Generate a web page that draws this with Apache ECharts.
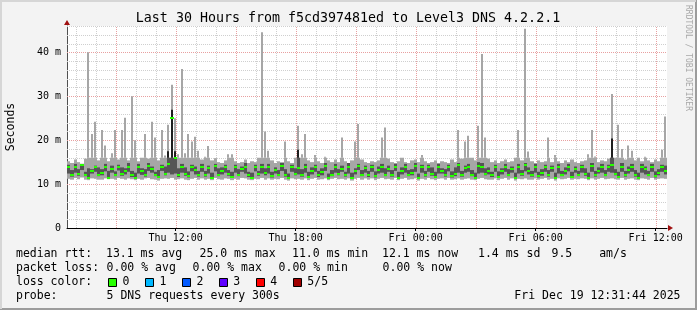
<!DOCTYPE html>
<html><head><meta charset="utf-8">
<script src="https://cdn.jsdelivr.net/npm/echarts@6/dist/echarts.min.js"></script>
<style>html,body{margin:0;padding:0;background:#f3f3f3;}#c{width:697px;height:310px;}</style>
</head><body><div id="c"></div>
<script>
// ---- data (ms), one entry per 10-minute step starting Thu 06:34 ----
const hi = [15.2,14.8,15.6,15.0,14.6,15.8,40.0,21.4,24.2,15.4,
22.3,18.8,15.2,17.0,22.3,15.6,22.3,25.1,15.4,30.0,
20.0,15.2,16.0,21.4,15.8,24.2,20.6,15.4,22.3,16.5,
23.5,32.6,25.0,16.8,36.2,17.0,21.4,19.7,20.8,17.6,
15.6,16.2,18.7,15.4,15.9,15.0,14.8,15.4,16.8,16.8,
15.2,14.8,15.0,15.6,14.8,15.2,15.0,16.0,44.6,22.0,
17.6,15.4,14.8,15.2,15.0,19.7,15.2,14.8,16.0,23.3,
16.8,21.4,15.4,15.0,16.6,15.2,14.8,16.2,15.4,15.0,
15.6,15.0,20.6,15.2,14.8,15.4,19.7,23.7,15.6,15.0,
14.8,15.2,15.0,15.4,20.6,22.9,15.8,15.0,14.8,15.2,
16.0,15.0,14.8,15.4,15.6,15.0,16.6,15.2,14.8,15.0,
15.4,14.8,15.2,15.0,14.8,15.6,15.0,22.3,15.8,19.7,
21.0,16.0,15.4,23.3,39.6,20.6,15.8,15.0,15.4,14.8,
15.2,15.6,15.0,15.2,16.0,22.3,15.4,45.4,17.4,15.2,
14.8,15.4,15.0,15.2,20.6,15.0,16.6,15.2,14.8,15.4,
15.0,15.6,15.0,14.8,15.2,15.4,16.8,22.3,16.3,15.0,
15.4,15.2,15.8,30.5,16.0,23.5,18.0,15.6,18.8,17.6,
15.4,16.0,15.2,16.2,15.4,15.0,15.6,15.2,17.8,25.4];
const dhi = [14.4,13.2,14.6,13.4,14.6,12.8,13.6,13.4,14.2,13.8,
13.4,14.6,13.0,14.2,12.9,14.4,13.8,13.6,14.8,13.0,
12.6,14.6,13.6,13.4,14.8,14.0,12.8,13.2,14.4,14.0,
17.5,26.9,17.5,13.6,14.6,13.8,12.9,14.4,14.0,13.0,
14.6,13.0,14.2,12.6,14.6,13.6,13.8,14.4,13.2,12.8,
14.4,13.4,14.0,14.8,12.8,12.6,14.4,13.0,14.6,13.6,
14.6,12.8,13.8,13.2,14.8,13.4,12.4,14.4,13.6,17.8,
13.4,14.6,12.8,13.8,14.4,13.0,13.6,14.8,12.4,13.2,
14.6,13.4,14.2,12.8,14.8,12.6,13.6,14.6,13.2,14.2,
13.0,14.4,12.9,14.0,14.6,13.6,14.2,13.2,14.6,12.8,
13.8,14.6,13.2,13.4,14.8,12.4,14.4,13.0,14.4,13.8,
12.8,14.6,13.6,13.4,14.4,12.9,13.8,14.8,13.0,14.2,
14.6,13.2,12.6,15.0,14.8,13.6,13.8,12.8,14.4,12.9,
13.6,14.6,13.4,14.0,12.6,14.6,13.2,14.8,13.8,13.0,
14.6,12.8,13.4,14.4,13.2,14.2,12.6,14.6,13.0,13.8,
14.6,12.8,14.0,13.0,14.4,13.6,12.6,14.8,13.0,13.8,
14.6,13.2,14.4,20.4,13.4,12.8,14.8,13.0,14.0,14.6,
13.2,12.6,14.6,14.0,13.0,14.6,12.9,13.4,14.4,14.2];
const med = [14.0,12.1,13.8,12.4,14.4,12.1,11.4,13.0,14.0,12.1,
12.6,14.0,11.5,13.4,12.1,14.0,12.2,13.0,14.0,12.1,
11.4,14.0,12.9,12.1,14.2,13.5,12.1,11.6,14.0,12.4,
14.6,25.0,15.9,12.1,14.0,12.4,11.8,14.0,13.2,12.1,
14.0,12.0,13.6,11.4,14.2,12.1,13.0,14.0,12.3,11.6,
14.0,12.1,13.5,14.0,12.0,11.5,13.8,12.2,14.0,12.6,
14.0,11.8,13.1,12.1,14.2,12.0,11.4,14.0,12.4,13.6,
12.1,14.0,11.6,13.0,14.0,12.1,12.8,14.2,11.5,12.1,
14.0,12.4,13.4,12.0,14.0,11.4,12.9,14.2,12.1,13.6,
12.0,14.0,11.8,13.2,14.0,12.1,13.5,12.0,14.0,11.5,
13.0,14.0,12.1,12.6,14.2,11.4,13.8,12.1,14.0,12.4,
11.6,14.0,13.0,12.1,14.0,11.8,12.2,14.4,12.0,13.6,
14.0,12.1,11.5,14.2,14.0,12.4,13.0,12.0,14.0,11.6,
12.9,14.0,12.1,13.4,11.4,14.0,12.2,14.4,13.0,12.1,
14.0,11.8,12.5,14.0,12.0,13.6,11.4,14.0,12.1,12.9,
14.0,11.6,13.4,12.1,14.0,12.2,11.5,14.2,12.0,13.0,
14.0,12.1,13.8,14.4,12.4,11.6,14.0,12.1,13.2,14.0,
12.0,11.5,14.0,13.4,12.1,14.0,11.8,12.6,14.0,13.0];
const dlo = [12.4,11.7,12.6,11.9,13.2,11.8,11.2,12.4,12.8,11.8,
12.0,12.9,11.3,12.6,11.8,13.1,11.9,12.2,12.8,11.6,
11.2,12.4,12.1,11.7,13.0,12.6,11.8,11.4,13.0,12.0,
12.6,12.2,12.4,11.6,12.6,11.9,11.5,12.9,12.2,11.7,
12.8,11.7,12.4,11.2,12.9,11.8,12.2,12.6,11.9,11.4,
12.6,11.8,12.8,12.4,11.6,11.3,12.9,11.9,12.4,12.0,
12.4,11.5,12.4,11.8,13.0,11.7,11.2,12.8,12.0,12.2,
11.7,12.6,11.4,12.2,12.8,11.6,12.0,13.0,11.3,11.8,
12.6,12.0,12.8,11.7,12.4,11.2,12.2,13.2,11.8,12.6,
11.6,12.8,11.5,12.4,12.6,11.8,12.8,11.7,13.0,11.3,
12.2,12.6,11.8,12.0,12.8,11.2,12.6,11.7,12.8,11.9,
11.4,12.4,12.4,11.7,12.9,11.5,11.8,12.6,11.7,12.6,
12.8,11.8,11.3,12.4,12.6,12.0,12.2,11.6,12.8,11.4,
12.2,12.8,11.8,12.6,11.2,12.4,11.9,12.9,12.2,11.7,
12.6,11.5,11.9,12.8,11.7,12.8,11.2,12.4,11.8,12.2,
12.9,11.4,12.6,11.8,12.6,11.9,11.3,12.8,11.7,12.4,
12.6,11.8,12.8,12.6,12.0,11.4,12.8,11.7,12.4,12.8,
11.7,11.3,12.6,12.2,11.8,12.8,11.5,12.0,12.8,12.2];
const lo = [11.2,11.0,11.4,11.1,11.5,11.0,10.9,11.3,11.2,11.0,
11.0,11.3,11.1,11.2,11.0,11.4,11.2,11.0,11.3,11.1,
10.9,11.2,11.0,11.3,11.4,11.1,11.0,10.8,11.2,11.3,
11.2,11.4,11.0,11.1,11.3,11.0,10.9,11.2,11.4,11.0,
11.3,11.0,11.2,10.9,11.4,11.1,11.0,11.3,11.2,10.9,
11.2,11.0,11.4,11.3,11.0,10.9,11.2,11.1,11.4,11.0,
11.3,11.0,11.2,11.1,11.4,11.0,10.8,11.3,11.1,11.2,
11.0,11.3,10.9,11.2,11.4,11.0,11.1,11.3,10.9,11.2,
11.4,11.1,11.2,11.0,11.3,10.8,11.2,11.4,11.0,11.3,
11.0,11.3,10.9,11.2,11.4,11.1,11.2,11.0,11.4,10.9,
11.2,11.4,11.0,11.1,11.3,10.8,11.2,11.0,11.4,11.1,
10.9,11.2,11.3,11.0,11.4,11.0,11.1,11.3,11.0,11.2,
11.3,11.0,10.9,11.2,11.4,11.1,11.0,11.0,11.3,10.9,
11.2,11.4,11.0,11.3,10.8,11.2,11.1,11.3,11.0,11.0,
11.3,11.0,11.2,11.4,11.0,11.2,10.8,11.3,11.1,11.2,
11.4,11.0,11.2,11.1,11.3,11.2,10.9,11.3,11.0,11.2,
11.4,11.1,11.2,11.3,11.1,11.0,11.4,11.0,11.2,11.3,
11.0,10.9,11.3,11.2,11.0,11.4,11.0,11.2,11.3,11.2];

// axis / tick definitions (hours since Thu 00:00)
const START_H = 6 + 34/60;      // Thu 06:34
const SPAN_H = 30;
const STEP_H = 1/6;             // 10 minutes
const xTickHours = [12, 18, 24, 30, 36];
const xTickLabels = ['Thu 12:00', 'Thu 18:00', 'Fri 00:00', 'Fri 06:00', 'Fri 12:00'];
const yMax = 46;
const yTicks = [0, 10, 20, 30, 40];
const yTickLabels = ['0', '10 m', '20 m', '30 m', '40 m'];
const lossLabels = ['0', '1', '2', '3', '4', '5/5'];
const lossColors = ['#26ff00', '#00b8ff', '#0059ff', '#5e00ff', '#ff0000', '#a00000'];

const MONO = '"DejaVu Sans Mono", monospace';
const LIGHT = '#a6a6a6', DARK = '#555555', BLACK = '#1e1e1e', GREEN = '#26ff00';

const smokeData = hi.map((h, i) => [START_H + i * STEP_H, lo[i], dlo[i], med[i], dhi[i], h]);
const vGrid = []; for (let h = Math.ceil(START_H); h <= START_H + SPAN_H; h++) vGrid.push([h]);
const hGrid = []; for (let v = 2; v <= yMax; v += 2) hGrid.push([v]);

function smokeItem(params, api) {
  const t = api.value(0);
  const vlo = api.value(1), vdlo = api.value(2), vmd = api.value(3), vdhi = api.value(4), vhi = api.value(5);
  const xa = Math.round(api.coord([t, 0])[0]);
  const xb = Math.round(api.coord([t + STEP_H, 0])[0]);
  const w = xb - xa;
  const Y = v => api.coord([t, v])[1];
  const CUT = 16;
  const r = (x, v1, v2, ww, fill) => {
    const y1 = Y(v1), y2 = Y(v2);
    return {type: 'rect', shape: {x: x, y: Math.min(y1, y2), width: ww, height: Math.abs(y2 - y1)}, style: {fill: fill}};
  };
  const ch = [];
  ch.push(r(xa, vlo, Math.min(vhi, CUT), w, LIGHT));
  if (vhi > CUT) ch.push(r(xa + Math.floor((w - 2) / 2), CUT, vhi, 2, LIGHT));
  ch.push(r(xa, vdlo, Math.min(vdhi, CUT), w, DARK));
  if (vdhi > CUT) ch.push(r(xa + Math.floor((w - 2) / 2), CUT, vdhi, 2, BLACK));
  const ym = Math.round(Y(vmd));
  ch.push({type: 'rect', shape: {x: xa, y: ym - 1, width: w, height: 2}, style: {fill: GREEN}});
  return {type: 'group', children: ch};
}

function vGridItem(params, api) {
  const h = api.value(0);
  const p0 = api.coord([h, 0]), p1 = api.coord([h, yMax]);
  const x = Math.round(p0[0]) + 0.5;
  const major = (h % 3 === 0);
  return {type: 'line', shape: {x1: x, y1: p0[1], x2: x, y2: p1[1]},
    style: {stroke: major ? '#e8a0a0' : '#cfcfcf', lineWidth: 1, lineDash: [1, 1]}};
}
function hGridItem(params, api) {
  const v = api.value(0);
  const p0 = api.coord([START_H, v]), p1 = api.coord([START_H + SPAN_H, v]);
  const y = Math.round(p0[1]) + 0.5;
  const major = (v % 10 === 0);
  return {type: 'line', shape: {x1: p0[0], y1: y, x2: p1[0], y2: y},
    style: {stroke: major ? '#e8a0a0' : '#cfcfcf', lineWidth: 1, lineDash: [1, 1]}};
}
function arrowItem(params, api) {
  const kind = api.value(2);
  const p = api.coord([api.value(0), api.value(1)]);
  let pts;
  if (kind === 0) { const x = Math.round(p[0]) + 1, y = Math.round(p[1]); pts = [[x, y - 3], [x, y + 3], [x + 5, y]]; }
  else { const x = Math.round(p[0]), y = Math.round(p[1]) - 1; pts = [[x - 3, y], [x + 3, y], [x, y - 5]]; }
  return {type: 'polygon', shape: {points: pts}, style: {fill: '#a01010'}};
}

const chart = echarts.init(document.getElementById('c'), null, {renderer: 'canvas'});

const legendFont = '11.5px ' + MONO;
const graphics = [];
function txt(s, x, y, extra) {
  graphics.push(Object.assign({type: 'text', x: x, y: y, style: {text: s, font: legendFont, fill: '#000', align: 'left', verticalAlign: 'middle'}}, extra || {}));
}
// frame
graphics.push({type: 'rect', shape: {x: 0, y: 0, width: 697, height: 310}, style: {fill: 'none', stroke: '#9c9c9c', lineWidth: 4}, z: 100});
graphics.push({type: 'polyline', shape: {points: [[1, 309], [1, 1], [696, 1]]}, style: {stroke: '#d6d6d6', lineWidth: 2, fill: 'none'}, z: 101});
// title
graphics.push({type: 'text', x: 348, y: 19, style: {text: 'Last 30 Hours from f5cd397481ed to Level3 DNS 4.2.2.1', font: '13.3px ' + MONO, fill: '#000', align: 'center', verticalAlign: 'middle'}});
// y name
graphics.push({type: 'text', x: 11, y: 127, rotation: Math.PI / 2, style: {text: 'Seconds', font: '11.5px ' + MONO, fill: '#000', align: 'center', verticalAlign: 'middle'}});
// watermark
graphics.push({type: 'text', x: 688, y: 58, rotation: -Math.PI / 2, style: {text: 'RRDTOOL / TOBI OETIKER', font: '8px ' + MONO, fill: '#a8a8a8', align: 'center', verticalAlign: 'middle'}});
// legend rows
const L1 = 254.5, L2 = 268.5, L3 = 282.5, L4 = 296.5;
txt('median rtt:', 16, L1);
txt('13.1 ms avg', 106, L1); txt('25.0 ms max', 199.5, L1); txt('11.0 ms min', 292, L1);
txt('12.1 ms now', 382, L1); txt('1.4 ms sd', 478, L1); txt('9.5', 551.5, L1); txt('am/s', 599.2, L1);
txt('packet loss:', 16, L2);
txt('0.00 % avg', 106.6, L2); txt('0.00 % max', 192.6, L2); txt('0.00 % min', 278.6, L2); txt('0.00 % now', 382.6, L2);
txt('loss color:', 16, L3);
const sqX = [108.3, 145.3, 182.3, 219, 256, 293];
lossLabels.forEach((lab, i) => {
  graphics.push({type: 'rect', shape: {x: Math.round(sqX[i]) + 0.5, y: 278.5, width: 8, height: 8}, style: {fill: lossColors[i], stroke: '#000', lineWidth: 1}});
  txt(lab, sqX[i] + 14.3, L3);
});
txt('probe:', 16, L4);
txt('5 DNS requests every 300s', 106.6, L4);
graphics.push({type: 'text', x: 680.5, y: L4, style: {text: 'Fri Dec 19 12:31:44 2025', font: legendFont, fill: '#000', align: 'right', verticalAlign: 'middle'}});

chart.setOption({
  animation: false,
  backgroundColor: '#f3f3f3',
  grid: {left: 67, right: 30, top: 26, bottom: 82, show: true, backgroundColor: '#ffffff', borderWidth: 0},
  xAxis: {
    type: 'value', min: START_H, max: START_H + SPAN_H,
    axisLine: {show: true, lineStyle: {color: '#000', width: 1}},
    axisTick: {show: true, customValues: xTickHours, length: 3, inside: false, lineStyle: {color: '#000'}},
    splitLine: {show: false},
    axisLabel: {customValues: xTickHours, margin: 5, fontFamily: MONO, fontSize: 10, color: '#000',
      formatter: v => { const k = xTickHours.indexOf(Math.round(v)); return k >= 0 ? xTickLabels[k] : ''; }}
  },
  yAxis: {
    type: 'value', min: 0, max: yMax, interval: 10,
    axisLine: {show: true, lineStyle: {color: '#505050', width: 1}},
    axisTick: {show: false},
    splitLine: {show: false},
    axisLabel: {margin: 6, fontFamily: MONO, fontSize: 10, color: '#000', showMaxLabel: false,
      formatter: v => { const k = yTicks.indexOf(v); return k >= 0 ? yTickLabels[k] : ''; }}
  },
  graphic: graphics,
  series: [
    {type: 'custom', name: 'vgrid', data: vGrid, renderItem: vGridItem, silent: true, z: 1, encode: {x: 0}},
    {type: 'custom', name: 'hgrid', data: hGrid, renderItem: hGridItem, silent: true, z: 1, encode: {y: 0}},
    {type: 'custom', name: 'smoke', data: smokeData, renderItem: smokeItem, silent: true, z: 2, clip: true, encode: {x: 0, y: [1, 5]}},
    {type: 'custom', name: 'arrows', data: [[START_H + SPAN_H, 0, 0], [START_H, yMax, 1]], renderItem: arrowItem, silent: true, z: 5, encode: {x: 0, y: 1}}
  ]
});
</script></body></html>
